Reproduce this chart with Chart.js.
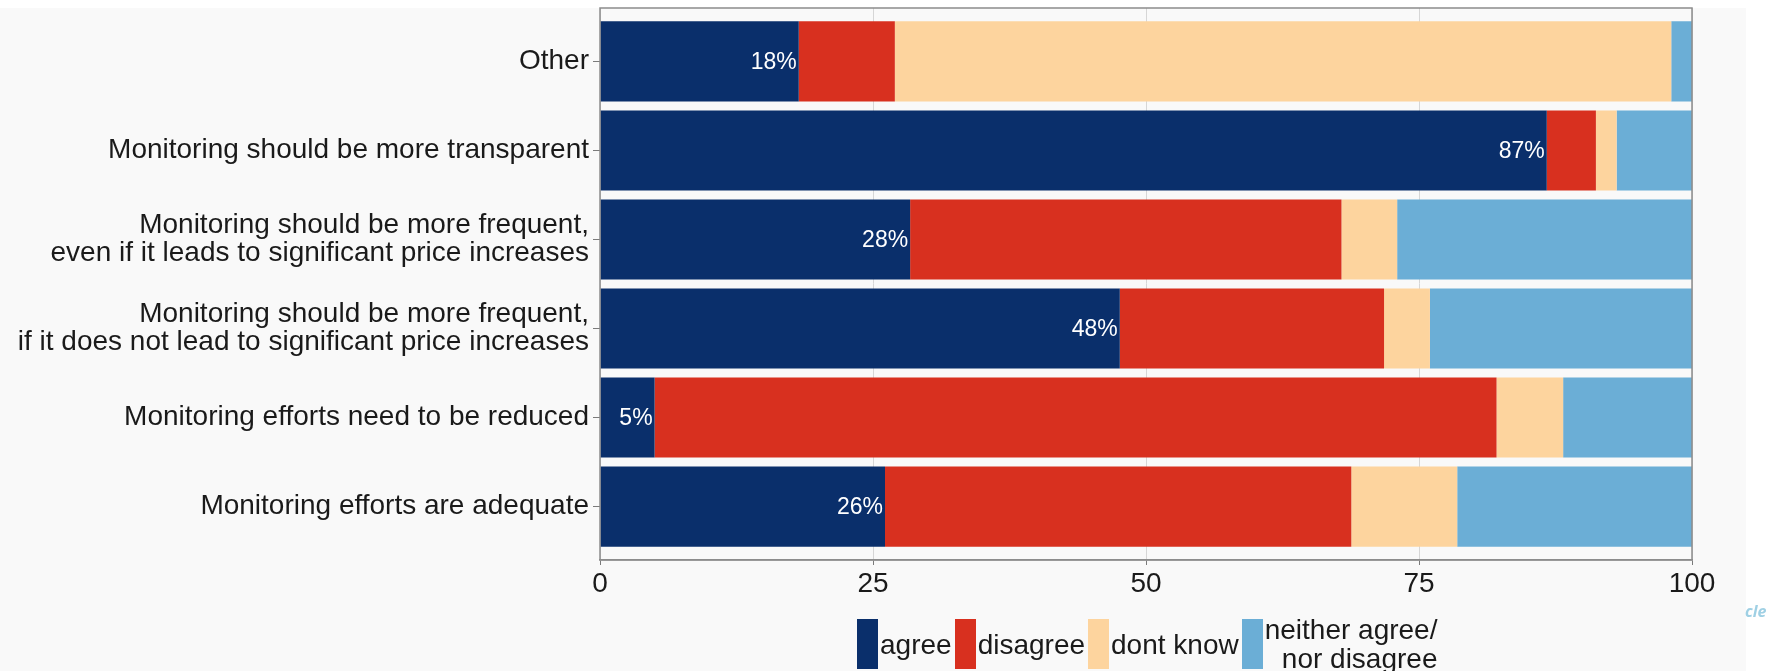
<!DOCTYPE html>
<html lang="en">

<head>
    <meta charset="UTF-8">
    <title>Monitoring opinions</title>
    <script src="https://cdn.jsdelivr.net/npm/chart.js@4.4.1/dist/chart.umd.min.js"></script>
    <style>
        html, body {
            margin: 0;
            padding: 0;
            background: #ffffff;
        }

        .wrap {
            position: relative;
            width: 1777px;
            height: 671px;
            overflow: hidden;
            font-family: "Liberation Sans", Arial, sans-serif;
        }

        #bar-chart {
            position: absolute;
            left: 0;
            top: 0;
        }

        .legend {
            position: absolute;
            left: 857px;
            top: 615px;
            display: flex;
            align-items: center;
            font-size: 28px;
            color: #1a1a1a;
        }

        .legend .item {
            display: flex;
            align-items: center;
            margin-right: 3px;
        }

        .legend .key {
            width: 21px;
            height: 50px;
            margin-right: 2px;
        }

        .legend .txt {
            white-space: pre;
            text-align: right;
            line-height: 29px;
        }

        .logo {
            position: absolute;
            left: 1745px;
            top: 600px;
            font: italic bold 16px "Open Sans", sans-serif;
            color: #9fd0e4;
        }
    </style>
</head>

<body>
    <div class="wrap">
        <canvas id="bar-chart" width="1777" height="671"></canvas>
        <div class="legend" id="legend"></div>
        <div class="logo">cle</div>
    </div>
    <script>
        // categories from top to bottom
        const categories = [
            'Other',
            'Monitoring should be more transparent',
            ['Monitoring should be more frequent,', 'even if it leads to significant price increases'],
            ['Monitoring should be more frequent,', 'if it does not lead to significant price increases'],
            'Monitoring efforts need to be reduced',
            'Monitoring efforts are adequate'
        ];
        const seriesNames = ['agree', 'disagree', 'dont know', 'neither agree/\nnor disagree'];
        const seriesColors = ['#0a2f6b', '#d8301f', '#fdd49e', '#6baed6'];

        // shares in percent, same order as categories
        const agree = [18.2, 86.7, 28.4, 47.6, 5.0, 26.1];
        const disagree = [8.8, 4.5, 39.5, 24.2, 77.1, 42.7];
        const dontKnow = [71.1, 1.9, 5.1, 4.2, 6.1, 9.7];
        const neither = [1.9, 6.9, 27.0, 24.0, 11.8, 21.5];

        const xTicks = [0, 25, 50, 75, 100];

        const FONT = '"Liberation Sans", Arial, sans-serif';
        const series = [agree, disagree, dontKnow, neither];

        // page background: white strip on top and right, light grey panel
        const bgPlugin = {
            id: 'bgPlugin',
            beforeDraw: chart => {
                const ctx = chart.ctx;
                ctx.save();
                ctx.fillStyle = '#ffffff';
                ctx.fillRect(0, 0, chart.width, chart.height);
                ctx.fillStyle = '#f9f9f9';
                ctx.fillRect(0, 8, 1746, chart.height - 8);
                ctx.restore();
            }
        };

        // panel border and the percentage labels of the "agree" bars
        const overlayPlugin = {
            id: 'overlayPlugin',
            afterDatasetsDraw: chart => {
                const ctx = chart.ctx;
                const a = chart.chartArea;
                ctx.save();
                ctx.strokeStyle = '#8c8c8c';
                ctx.lineWidth = 1.5;
                ctx.strokeRect(a.left, a.top, a.right - a.left, a.bottom - a.top);

                ctx.fillStyle = '#ffffff';
                ctx.font = '23px ' + FONT;
                ctx.textAlign = 'right';
                ctx.textBaseline = 'middle';
                chart.getDatasetMeta(0).data.forEach(function (bar, i) {
                    ctx.fillText(Math.round(agree[i]) + '%', bar.x - 2, bar.y + 1);
                });
                ctx.restore();
            }
        };

        const ctx = document.getElementById('bar-chart').getContext('2d');
        const myChart = new Chart(ctx, {
            type: 'bar',
            data: {
                datasets: series.map(function (vals, s) {
                    return {
                        label: seriesNames[s],
                        data: vals.map((v, i) => ({ x: v, y: i + 1 })),
                        backgroundColor: seriesColors[s],
                        borderWidth: 0,
                        barPercentage: 0.9,
                        categoryPercentage: 1
                    };
                })
            },
            options: {
                indexAxis: 'y',
                responsive: false,
                animation: false,
                devicePixelRatio: 1,
                layout: {
                    padding: { top: 8, right: 85, left: 0, bottom: 0 }
                },
                plugins: {
                    legend: { display: false },
                    tooltip: { enabled: false }
                },
                scales: {
                    x: {
                        type: 'linear',
                        stacked: true,
                        min: 0,
                        max: 100,
                        afterBuildTicks: axis => {
                            axis.ticks = xTicks.map(v => ({ value: v }));
                        },
                        afterFit: scale => {
                            scale.height = 111;
                        },
                        grid: {
                            color: '#d6d6d6',
                            lineWidth: 1,
                            tickColor: '#7a7a7a',
                            tickLength: 5
                        },
                        border: { display: true, color: '#8c8c8c', width: 1.5 },
                        ticks: {
                            color: '#1a1a1a',
                            padding: 2,
                            maxRotation: 0,
                            font: { family: FONT, size: 28 }
                        }
                    },
                    y: {
                        type: 'linear',
                        stacked: true,
                        reverse: true,
                        offset: false,
                        min: 0.4,
                        max: 6.6,
                        afterBuildTicks: axis => {
                            axis.ticks = categories.map((c, i) => ({ value: i + 1 }));
                        },
                        afterFit: scale => {
                            scale.width = 600;
                            scale.paddingTop = 0;
                            scale.paddingBottom = 0;
                        },
                        grid: {
                            offset: false,
                            drawOnChartArea: false,
                            drawTicks: true,
                            tickLength: 7,
                            tickColor: '#7a7a7a'
                        },
                        border: { display: false },
                        ticks: {
                            color: '#1a1a1a',
                            padding: 4,
                            autoSkip: false,
                            font: { family: FONT, size: 28, lineHeight: 1.0 },
                            callback: v => categories[Math.round(v) - 1]
                        }
                    }
                }
            },
            plugins: [bgPlugin, overlayPlugin]
        });

        // legend below the panel
        const legend = document.getElementById('legend');
        seriesNames.forEach(function (name, s) {
            const item = document.createElement('div');
            item.className = 'item';
            const key = document.createElement('span');
            key.className = 'key';
            key.style.background = seriesColors[s];
            const txt = document.createElement('span');
            txt.className = 'txt';
            txt.textContent = name;
            item.appendChild(key);
            item.appendChild(txt);
            legend.appendChild(item);
        });
    </script>
</body>

</html>
